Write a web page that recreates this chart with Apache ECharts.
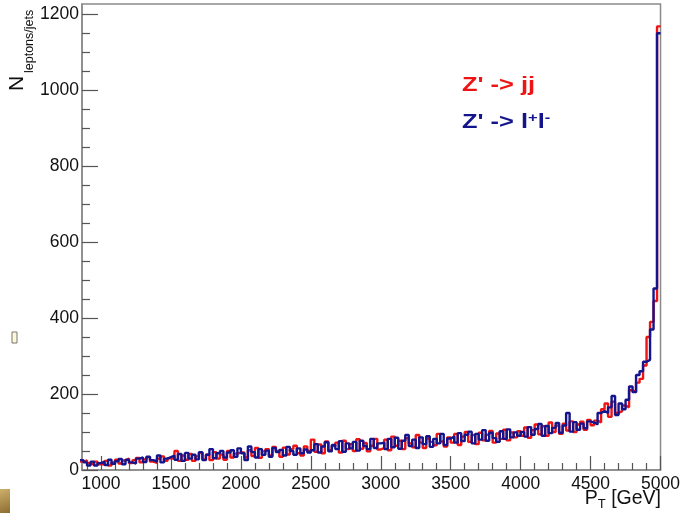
<!DOCTYPE html>
<html>
<head>
<meta charset="utf-8">
<script src="https://cdn.jsdelivr.net/npm/echarts@6/dist/echarts.min.js"></script>
<style>
html,body{margin:0;padding:0;background:#fff;}
#c{width:683px;height:513px;}
</style>
</head>
<body>
<div id="c"></div>
<script>
// Histogram binning (GeV)
const binLow = 850;
const binWidth = 25;
const xMin = 864;
const xMax = 5000;
const yMin = 0;
const yMax = 1227;

const xMajorTicks = [1000, 1500, 2000, 2500, 3000, 3500, 4000, 4500, 5000];
const yMajorTicks = [0, 200, 400, 600, 800, 1000, 1200];

// Z' -> jj (red), bins 850..4975
const jjCounts = [
  22, 25, 18, 14, 22, 15,
  15, 24, 12, 20, 27, 17, 25, 30, 18, 26, 32, 20, 28, 34, 22, 19, 30, 36, 24, 31,
  30, 50, 24, 38, 27, 42, 24, 36, 45, 28, 40, 26, 47, 30, 41, 27, 50, 33, 43, 46,
  46, 33, 52, 37, 58, 32, 49, 55, 38, 61, 50, 35, 59, 41, 55, 64, 44, 38, 62, 50,
  80, 48, 67, 44, 75, 52, 63, 72, 46, 77, 55, 68, 50, 81, 56, 71, 49, 64, 82, 54,
  58, 80, 52, 88, 64, 77, 55, 84, 70, 60, 92, 72, 58, 83, 74, 65, 95, 75, 62, 86,
  72, 95, 66, 88, 100, 74, 92, 68, 98, 78, 93, 103, 72, 96, 82, 106, 78, 99, 86, 102,
  90, 112, 85, 105, 120, 94, 115, 90, 125, 100, 117, 95, 122, 104, 128, 100, 120, 127, 106, 132,
  118, 130, 125, 160, 175, 140, 180, 150, 155, 170, 165, 210, 205, 230, 240, 275, 350, 390, 445, 1168
];

// Z' -> l+l- (blue), bins 850..4975
const llCounts = [
  26, 20, 12, 22, 12, 18,
  22, 13, 27, 16, 23, 29, 15, 27, 20, 17, 30, 33, 21, 35, 26, 22, 38, 20, 30, 34,
  38, 27, 42, 24, 45, 30, 40, 28, 47, 26, 40, 55, 31, 44, 50, 33, 46, 52, 35, 57,
  44, 26, 62, 47, 33, 55, 40, 51, 35, 58, 47, 53, 38, 61, 50, 40, 57, 44, 54, 46,
  52, 68, 46, 62, 73, 49, 66, 55, 76, 48, 70, 57, 74, 51, 77, 63, 55, 82, 58, 70,
  72, 55, 82, 60, 85, 56, 77, 92, 63, 80, 58, 86, 68, 89, 61, 82, 70, 95, 66, 83,
  88, 72, 97, 76, 93, 101, 70, 95, 80, 105, 77, 98, 84, 74, 102, 82, 107, 86, 99, 90,
  100, 88, 113, 93, 108, 121, 90, 116, 97, 111, 124, 98, 117, 150, 101, 126, 106, 122, 110, 128,
  125, 120, 150, 155, 150, 165, 195, 145, 175, 160, 185, 220, 205, 250, 260, 285, 290, 370, 478, 1150
];

const seriesNames = ["Z' -> jj", "Z' -> l+l-"];

function stepData(counts) {
  const pts = counts.map((v, i) => [binLow + i * binWidth, v]);
  pts.push([binLow + counts.length * binWidth, counts[counts.length - 1]]);
  return pts;
}

const xMinor = [];
for (let v = 900; v <= 5000; v += 100) if (v % 500 !== 0) xMinor.push(v);
const yMinor = [];
for (let v = 50; v <= 1200; v += 50) if (v % 200 !== 0) yMinor.push(v);

const RED = '#ee1414';
const BLUE = '#14148c';
const FONT = '"Liberation Sans", Arial, Helvetica, sans-serif';
const plain = v => String(v);

const chart = echarts.init(document.getElementById('c'), null, {renderer: 'canvas'});
chart.setOption({
  animation: false,
  backgroundColor: '#ffffff',
  grid: {left: 82, right: 22, top: 4, bottom: 43, show: true, borderColor: '#8a8a8a', borderWidth: 1.5, backgroundColor: 'transparent'},
  xAxis: [
    {
      type: 'value', min: xMin, max: xMax, position: 'bottom',
      axisLine: {show: true, lineStyle: {color: '#8a8a8a', width: 1.5}},
      axisTick: {show: true, inside: true, length: 14, customValues: xMajorTicks, lineStyle: {color: '#555', width: 1.2}},
      axisLabel: {show: true, customValues: xMajorTicks, formatter: plain, margin: 5, fontSize: 17.5, color: '#111', fontFamily: FONT},
      splitLine: {show: false}
    },
    {
      type: 'value', min: xMin, max: xMax, position: 'bottom', gridIndex: 0,
      axisLine: {show: false},
      axisTick: {show: true, inside: true, length: 7, customValues: xMinor, lineStyle: {color: '#555', width: 1.2}},
      axisLabel: {show: false},
      splitLine: {show: false}
    }
  ],
  yAxis: [
    {
      type: 'value', min: yMin, max: yMax, position: 'left',
      axisLine: {show: true, lineStyle: {color: '#8a8a8a', width: 1.5}},
      axisTick: {show: true, inside: true, length: 16, customValues: yMajorTicks, lineStyle: {color: '#555', width: 1.2}},
      axisLabel: {show: true, customValues: yMajorTicks, formatter: plain, margin: 3, fontSize: 17.5, color: '#111', fontFamily: FONT},
      splitLine: {show: false}
    },
    {
      type: 'value', min: yMin, max: yMax, position: 'left', gridIndex: 0,
      axisLine: {show: false},
      axisTick: {show: true, inside: true, length: 8, customValues: yMinor, lineStyle: {color: '#555', width: 1.2}},
      axisLabel: {show: false},
      splitLine: {show: false}
    }
  ],
  series: [
    {
      name: seriesNames[0], type: 'line', step: 'end', xAxisIndex: 0, yAxisIndex: 0,
      data: stepData(jjCounts), showSymbol: false, symbol: 'none', clip: true,
      lineStyle: {color: RED, width: 2.4}, z: 2
    },
    {
      name: seriesNames[1], type: 'line', step: 'end', xAxisIndex: 0, yAxisIndex: 0,
      data: stepData(llCounts), showSymbol: false, symbol: 'none', clip: true,
      lineStyle: {color: BLUE, width: 2.4}, z: 3
    }
  ],
  graphic: [
    {type: 'text', x: 462, y: 75, scaleX: 1.27, style: {text: "Z' -> jj", fill: RED, font: 'bold 20px ' + FONT}},
    {type: 'text', x: 462, y: 112, scaleX: 1.27, style: {
      text: "{b|Z' -> l}{s|+}{b|l}{s|-}",
      rich: {
        b: {fill: BLUE, font: 'bold 20px ' + FONT, verticalAlign: 'bottom'},
        s: {fill: BLUE, font: 'bold 13px ' + FONT, verticalAlign: 'top'}
      }
    }},
    {type: 'text', x: 28, y: 91, rotation: Math.PI / 2, style: {text: 'N', fill: '#111', font: '21px ' + FONT, textAlign: 'left', textVerticalAlign: 'bottom'}},
    {type: 'text', x: 36, y: 73, rotation: Math.PI / 2, style: {text: 'leptons/jets', fill: '#111', font: '12.5px ' + FONT, textAlign: 'left', textVerticalAlign: 'bottom'}},
    {type: 'text', right: 22, top: 489, style: {
      text: '{p|P}{t|T}{g| [GeV]}',
      rich: {
        p: {fill: '#111', font: '19.5px ' + FONT, verticalAlign: 'top'},
        t: {fill: '#111', font: '13px ' + FONT, verticalAlign: 'bottom', padding: [9, 0, 0, 0]},
        g: {fill: '#111', font: '19.5px ' + FONT, verticalAlign: 'top'}
      }
    }},
    {type: 'rect', shape: {x: 12, y: 332, width: 5, height: 11}, style: {fill: '#fff8d8', stroke: '#777', lineWidth: 1}},
    {type: 'rect', shape: {x: 0, y: 489, width: 10, height: 24}, style: {
      fill: {type: 'linear', x: 0, y: 0, x2: 1, y2: 1, colorStops: [{offset: 0, color: '#cdb06a'}, {offset: 1, color: '#8c6c32'}]}
    }}
  ]
});
</script>
</body>
</html>
